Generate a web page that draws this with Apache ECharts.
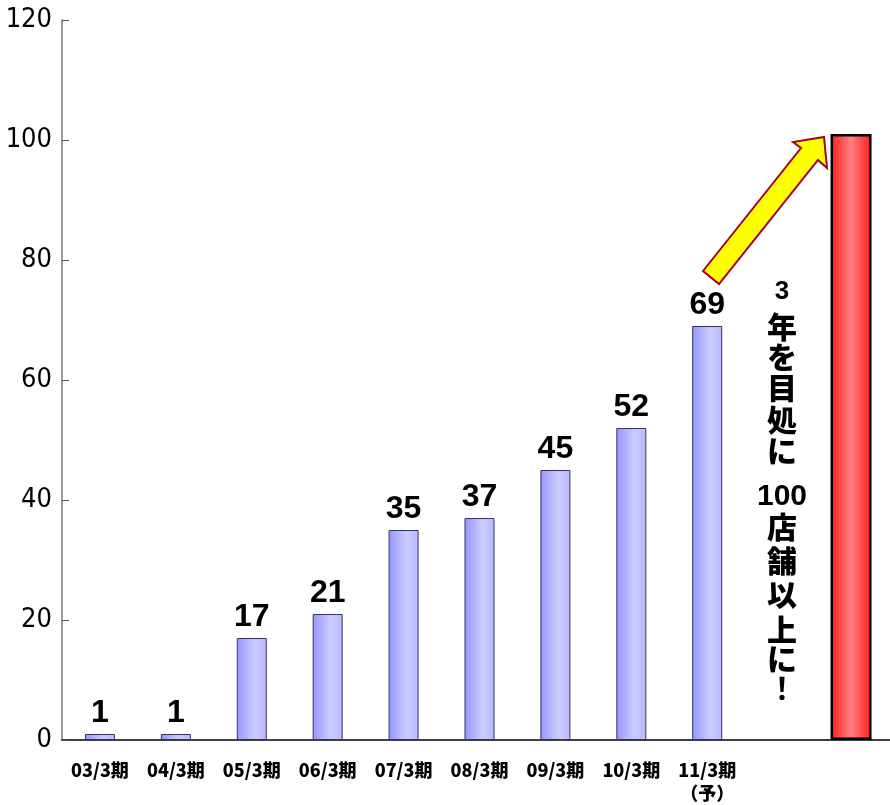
<!DOCTYPE html>
<html lang="ja" style="height: 100%">
<head>
  <meta charset="utf-8">
</head>
<body style="height: 100%; margin: 0; background: #fff; overflow: hidden">
  <!-- 右端の目盛り区画は画面外まで続くので、少し広めに描く -->
  <div id="container" style="width: 897px; height: 805px"></div>

  <script type="text/javascript" src="https://fastly.jsdelivr.net/npm/echarts@6/dist/echarts.min.js"></script>
  <script type="text/javascript">
    // 期ごとの店舗数
    var categories = ['03/3期', '04/3期', '05/3期', '06/3期', '07/3期', '08/3期', '09/3期', '10/3期', '11/3期\n（予）', '', ''];
    var storeCounts = [1, 1, 17, 21, 35, 37, 45, 52, 69, '-', '-'];
    var targetCounts = ['-', '-', '-', '-', '-', '-', '-', '-', '-', '-', 101];
    var yTicks = { min: 0, max: 120, interval: 20 };

    // 縦書きメッセージ（行ごと）
    var messageLines = [
      ['3', 292, 26], ['年', 327, 30], ['を', 357, 30], ['目', 388, 30], ['処', 420, 30], ['に', 451, 30],
      ['100', 497, 30], ['店', 527, 30], ['舗', 561, 30], ['以', 595, 30], ['上', 630, 30], ['に', 659, 30], ['！', 688, 30]
    ];

    var dom = document.getElementById('container');
    var myChart = echarts.init(dom, null, { renderer: 'canvas' });
    var option;

    var blueFill = new echarts.graphic.LinearGradient(0, 0, 1, 0, [
      { offset: 0, color: '#9595ff' },
      { offset: 0.6, color: '#ccccff' },
      { offset: 1, color: '#b8b8ff' }
    ]);
    var redFill = new echarts.graphic.LinearGradient(0, 0, 1, 0, [
      { offset: 0, color: '#ff1a1a' },
      { offset: 0.5, color: '#ff8080' },
      { offset: 1, color: '#ff1a1a' }
    ]);

    var msgGraphics = messageLines.map(function (m) {
      var latin = /^[0-9！]+$/.test(m[0]);
      return {
        type: 'text',
        x: 782,
        y: m[1],
        style: {
          text: m[0],
          font: (latin ? 'bold ' : '900 ') + m[2] + 'px ' +
            (latin && m[0] !== '！' ? '"Liberation Sans", Arial, sans-serif' : '"Noto Sans CJK JP", sans-serif'),
          fill: '#000',
          align: 'center',
          verticalAlign: 'middle'
        }
      };
    });

    option = {
      animation: false,
      grid: { left: 62, right: 0, top: 20, bottom: 65 },
      xAxis: [
        {
          type: 'category',
          data: categories,
          axisLine: { lineStyle: { color: '#000', width: 1.5 } },
          axisTick: { inside: true, length: 6, lineStyle: { color: '#555' } },
          axisLabel: {
            interval: 0,
            margin: 19,
            color: '#000',
            fontSize: 18,
            fontWeight: 900,
            lineHeight: 23,
            fontFamily: '"Noto Sans CJK JP", sans-serif'
          }
        },
        {
          type: 'category',
          data: categories,
          show: false
        }
      ],
      yAxis: {
        type: 'value',
        min: yTicks.min,
        max: yTicks.max,
        interval: yTicks.interval,
        splitLine: { show: false },
        axisLine: { show: true, lineStyle: { color: '#777', width: 1.5 } },
        axisTick: { show: true, inside: true, length: 7, lineStyle: { color: '#555' } },
        axisLabel: {
          margin: 10,
          color: '#000',
          fontSize: 27,
          fontFamily: '"Liberation Sans Narrow", "DejaVu Sans Condensed", sans-serif'
        }
      },
      series: [
        {
          type: 'bar',
          xAxisIndex: 0,
          data: storeCounts,
          barWidth: 30,
          itemStyle: { color: blueFill, borderColor: '#333366', borderWidth: 1 },
          label: {
            show: true,
            position: 'top',
            distance: 5,
            color: '#000',
            fontSize: 32,
            fontWeight: 'bold',
            fontFamily: '"Liberation Sans", Arial, sans-serif'
          }
        },
        {
          type: 'bar',
          xAxisIndex: 1,
          data: targetCounts,
          barWidth: 41,
          barGap: 0,
          itemStyle: { color: redFill, borderColor: '#000', borderWidth: 2.5 }
        },
        {
          // 赤い棒を少し左に寄せるための空の系列
          type: 'bar',
          xAxisIndex: 1,
          data: [],
          barWidth: 16,
          barGap: 0
        }
      ],
      graphic: [
        {
          type: 'polygon',
          shape: {
            points: [[703, 271], [801, 148], [793, 142], [824, 137], [827, 168], [818, 160], [719, 284]]
          },
          style: { fill: '#ffff00', stroke: '#a0002a', lineWidth: 2 }
        }
      ].concat(msgGraphics)
    };

    if (option && typeof option === 'object') {
      myChart.setOption(option);
    }

    window.addEventListener('resize', myChart.resize);
  </script>
</body>
</html>
